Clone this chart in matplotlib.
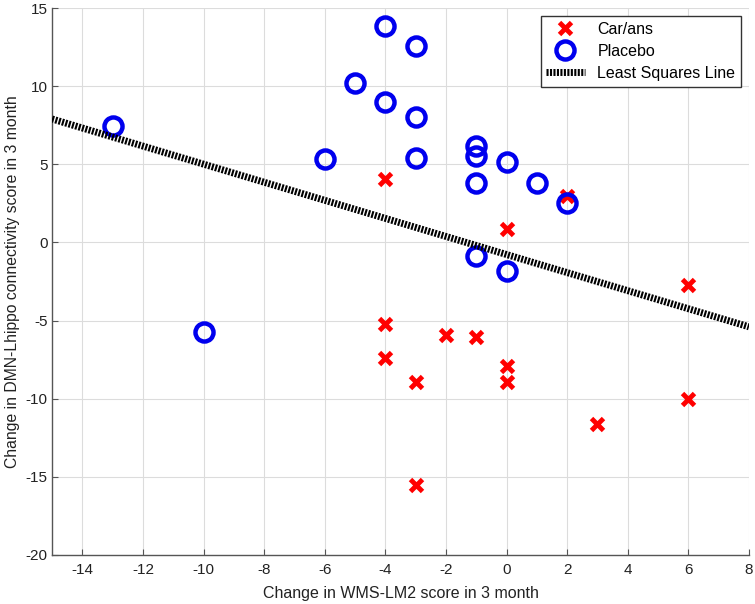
import matplotlib
matplotlib.use("Agg")
import matplotlib.pyplot as plt

plt.rcParams['font.family'] = ['Liberation Sans', 'DejaVu Sans']
plt.rcParams['axes.unicode_minus'] = False

# Car/ans (red crosses)
car_x = [-4, -4, -4, -3, -3, -2, -1, 0, 0, 0, 2, 3, 6, 6]
car_y = [4.05, -5.2, -7.4, -8.9, -15.5, -5.9, -6.05, 0.88, -7.9, -8.95, 3.0, -11.6, -2.75, -10.05]

# Placebo (blue circles)
pla_x = [-13, -10, -6, -5, -4, -4, -3, -3, -3, -1, -1, -1, -1, 0, 0, 1, 2]
pla_y = [7.45, -5.75, 5.35, 10.2, 13.85, 9.0, 12.6, 8.0, 5.4, 6.15, 5.55, 3.8, -0.88, 5.15, -1.8, 3.8, 2.5]

# Least squares line end points
fit_x = [-15, 8]
fit_y = [7.9, -5.4]

x_ticks = list(range(-14, 9, 2))
y_ticks = list(range(-20, 16, 5))

fig = plt.figure(figsize=(7.55, 6.04), dpi=100)
ax = fig.add_axes([52/755, 1-555/604, 697/755, 547/604])

ax.plot(car_x, car_y, linestyle='none', marker='x', color='#ff0000', ms=9, mew=3.5, label='Car/ans', zorder=3)
ax.plot(pla_x, pla_y, linestyle='none', marker='o', mfc='none', mec='#0000ee', ms=13, mew=3.2, label='Placebo', zorder=3)
ax.plot(fit_x, fit_y, color='black', lw=5, dashes=(0.3, 0.2), dash_capstyle='butt', label='Least Squares Line', zorder=4)

ax.set_xlim(-15, 8)
ax.set_ylim(-20, 15)
ax.set_xticks(x_ticks)
ax.set_yticks(y_ticks)
ax.grid(True, color='#dcdcdc', lw=0.8)
ax.set_axisbelow(True)
for s in ['top', 'right']:
    ax.spines[s].set_visible(False)
for s in ['left', 'bottom']:
    ax.spines[s].set_color('#555555')
    ax.spines[s].set_linewidth(1.0)
ax.tick_params(direction='in', length=4, colors='#555555', labelcolor='#222222', labelsize=11)
ax.tick_params(axis='x', pad=6)
ax.tick_params(axis='y', pad=3)

ax.set_xlabel('Change in WMS-LM2 score in 3 month', fontsize=11.5, color='#222222', labelpad=6)
ax.set_ylabel('Change in DMN-Lhippo connectivity score in 3 month', fontsize=11.3, color='#222222', labelpad=4)

leg = ax.legend(loc='upper right', fontsize=11.5, fancybox=False, framealpha=1,
                edgecolor='#333333', borderaxespad=0.5, handlelength=2.4, labelspacing=0.45,
                borderpad=0.35)
leg.get_frame().set_linewidth(1.0)

fig.savefig('out.png', dpi=100)
